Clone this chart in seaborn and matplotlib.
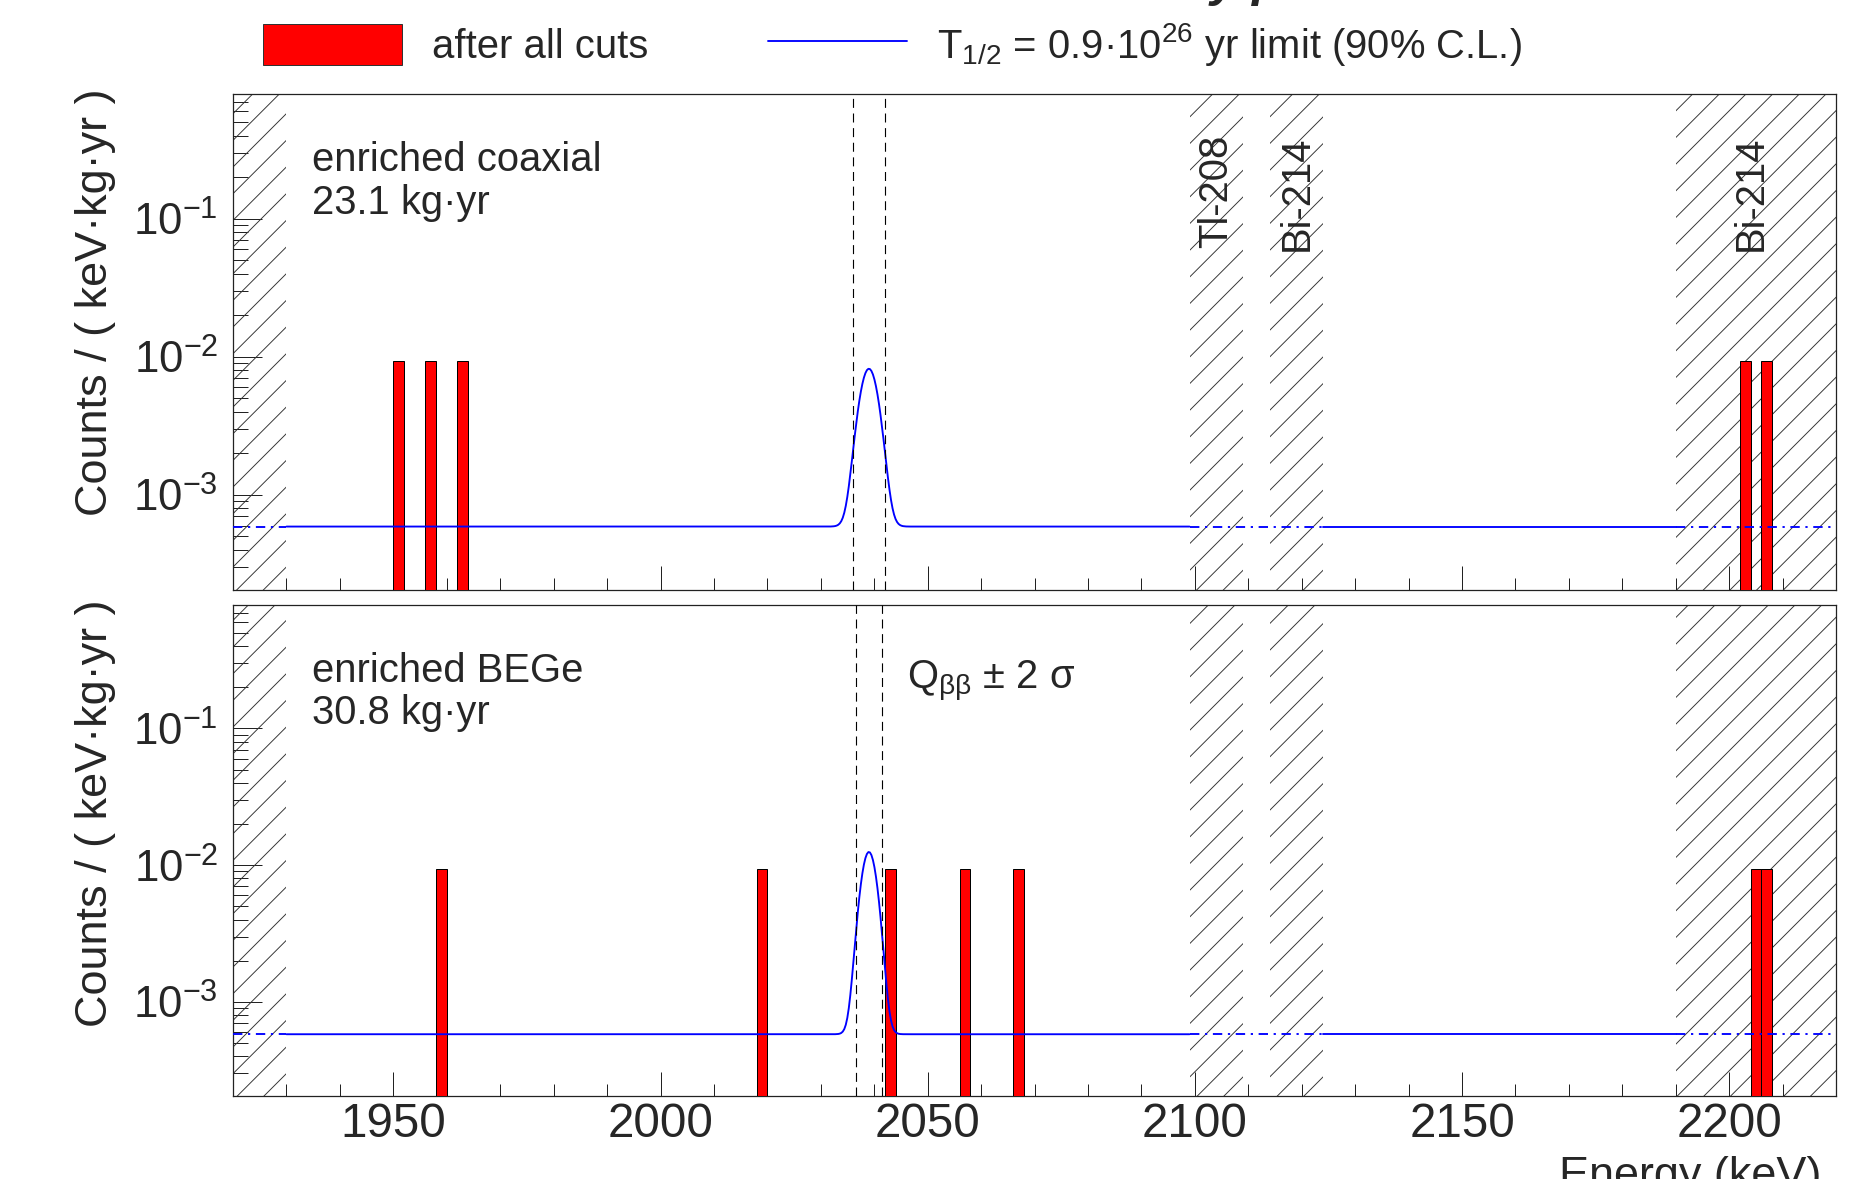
import numpy as np
import pandas as pd
import matplotlib
matplotlib.use('Agg')
import matplotlib.pyplot as plt
import matplotlib.ticker as mticker
import matplotlib.transforms as mtransforms
from matplotlib.patches import Patch
from matplotlib.lines import Line2D
import seaborn as sns

# events surviving all cuts (keV), one entry per event
coax_energies = [1951, 1957, 1963, 2203, 2207]
bege_energies = [1959, 2019, 2043, 2057, 2067, 2205, 2207]
event_weight = 0.0093          # one event in a 2 keV bin, counts/(keV kg yr)
bin_edges = list(range(1920, 2222, 2))

panel_text = ['enriched coaxial\n23.1 kg·yr', 'enriched BEGe\n30.8 kg·yr']

# limit curve (flat background + gaussian at Q_bb)
q_bb = 2039.0
peak_height = [0.0082, 0.0125]
curve_sigma = [1.65, 1.4]
bkg_level = [5.9e-4, 5.8e-4]
window_half = [3.0, 2.5]       # Q_bb +- 2 sigma

# excluded regions
hatched = [(1920, 1930), (2099, 2109), (2114, 2124), (2190, 2220)]
solid_parts = [(1930, 2099), (2124, 2190)]
dotted_parts = [(1920, 1930), (2099, 2124), (2190, 2220)]
line_names = ['Tl-208', 'Bi-214', 'Bi-214']
line_pos = [2104, 2119, 2204]

DPI = 80             # sets the hatch spacing (dpi/6 px)
k = 90 / DPI         # sizes below were tuned in points at 90 dpi

sns.set_theme(style='white')
plt.rcParams['font.family'] = ['Liberation Sans', 'DejaVu Sans']
plt.rcParams['mathtext.fontset'] = 'custom'
plt.rcParams['mathtext.rm'] = 'Liberation Sans'
plt.rcParams['mathtext.it'] = 'Liberation Sans:italic'
plt.rcParams['mathtext.bf'] = 'Liberation Sans:bold'
plt.rcParams['hatch.linewidth'] = 0.75 * k


def limit_curve(x, i):
    return bkg_level[i] + (peak_height[i] - bkg_level[i]) * np.exp(-0.5 * ((x - q_bb) / curve_sigma[i]) ** 2)


fig = plt.figure(figsize=(1872 / DPI, 1179 / DPI), dpi=DPI)
ax_top = fig.add_axes([0.1245, 0.4996, 0.8563, 0.4207])
ax_bot = fig.add_axes([0.1245, 0.0704, 0.8563, 0.4165])
axes = [ax_top, ax_bot]
energies = [coax_energies, bege_energies]

for i, ax in enumerate(axes):
    df = pd.DataFrame({'energy': energies[i], 'w': [event_weight] * len(energies[i])})
    sns.histplot(data=df, x='energy', weights='w', bins=bin_edges,
                 ax=ax, color='red', edgecolor='black', linewidth=0.8 * k, alpha=1, zorder=3)
    for p in ax.patches:
        if p.get_height() <= 0:
            p.set_visible(False)
    ax.set_yscale('log')

    for lo, hi in hatched:
        ax.axvspan(lo, hi, facecolor='none', edgecolor='#333333', hatch='/', linewidth=0, zorder=1)

    for lo, hi in solid_parts:
        xs = np.linspace(lo, hi, 600)
        sns.lineplot(x=xs, y=limit_curve(xs, i), ax=ax, color='blue', lw=1.5 * k, zorder=4)
    for lo, hi in dotted_parts:
        xs = np.linspace(lo, hi, 50)
        ax.plot(xs, limit_curve(xs, i), color='blue', lw=1.5 * k, linestyle=(0, (5, 3, 1.2, 3)), zorder=4)

    for s in (-1, 1):
        ax.axvline(q_bb + s * window_half[i], color='black', lw=0.9 * k, linestyle=(0, (8, 5)), zorder=5)

    ax.set_xlim(1920, 2220)
    ax.set_ylim(2.05e-4, 0.80)
    ax.xaxis.set_major_locator(mticker.MultipleLocator(50))
    ax.xaxis.set_minor_locator(mticker.MultipleLocator(10))
    ax.yaxis.set_major_locator(mticker.LogLocator(base=10, numticks=10))
    ax.yaxis.set_minor_locator(mticker.LogLocator(base=10, subs=np.arange(2, 10), numticks=20))
    ax.yaxis.set_minor_formatter(mticker.NullFormatter())
    ax.tick_params(axis='both', which='both', direction='in', top=False, right=False,
                   bottom=True, left=True, color='#222222')
    ax.tick_params(axis='x', which='major', length=19 * k, width=0.8 * k, labelsize=38 * k, pad=5 * k)
    ax.tick_params(axis='x', which='minor', length=10 * k, width=0.8 * k)
    ax.tick_params(axis='y', which='major', length=23 * k, width=0.8 * k, labelsize=35 * k, pad=12 * k)
    ax.tick_params(axis='y', which='minor', length=12 * k, width=0.8 * k)
    for sp in ax.spines.values():
        sp.set_linewidth(1.0 * k)
        sp.set_color('#222222')

    ax.set_ylabel('Counts / ( keV·kg·yr )', fontsize=36 * k, loc='top')
    ax.yaxis.set_label_coords(-0.073, 1.012)
    ax.set_xlabel('')

    ax.text(0.049, 0.905, panel_text[i], transform=ax.transAxes, va='top', ha='left',
            fontsize=32 * k, linespacing=1.15)

ax_top.tick_params(axis='x', labelbottom=False)

trans = mtransforms.blended_transform_factory(ax_top.transData, ax_top.transAxes)
for name, pos in zip(line_names, line_pos):
    ax_top.text(pos, 0.917, name, transform=trans, rotation=90, ha='center', va='top',
                fontsize=32 * k, zorder=6)

trans_b = mtransforms.blended_transform_factory(ax_bot.transData, ax_bot.transAxes)
ax_bot.text(2046.1, 0.831, r'Q$_{\mathrm{\beta\beta}}$ ± 2 σ', transform=trans_b,
            ha='left', va='baseline', fontsize=32 * k)

ax_bot.set_xlabel('Energy (keV)', fontsize=36 * k, loc='right')
ax_bot.xaxis.set_label_coords(0.9906, -0.122)
ax_bot.xaxis.label.set_va('top')

handles = [Patch(facecolor='red', edgecolor='#333333', linewidth=0.8 * k),
           Line2D([0], [0], color='blue', lw=1.5 * k)]
labels = ['after all cuts', r'T$_{1/2}$ = 0.9·10$^{26}$ yr limit (90% C.L.)']
fig.legend(handles, labels, loc='center left', bbox_to_anchor=(263 / 1872, 1 - 44 / 1179),
           ncol=2, frameon=False, fontsize=32 * k, handlelength=3.475, handleheight=1.2,
           handletextpad=0.75, columnspacing=3.0, borderpad=0, borderaxespad=0)

# title, mostly cut off by the top edge
fig.text(1016 / 1872, 1.003, 'summary plot', fontsize=40 * k, weight='bold', style='italic',
         va='baseline', ha='left')

fig.savefig('out.png', dpi=DPI)
